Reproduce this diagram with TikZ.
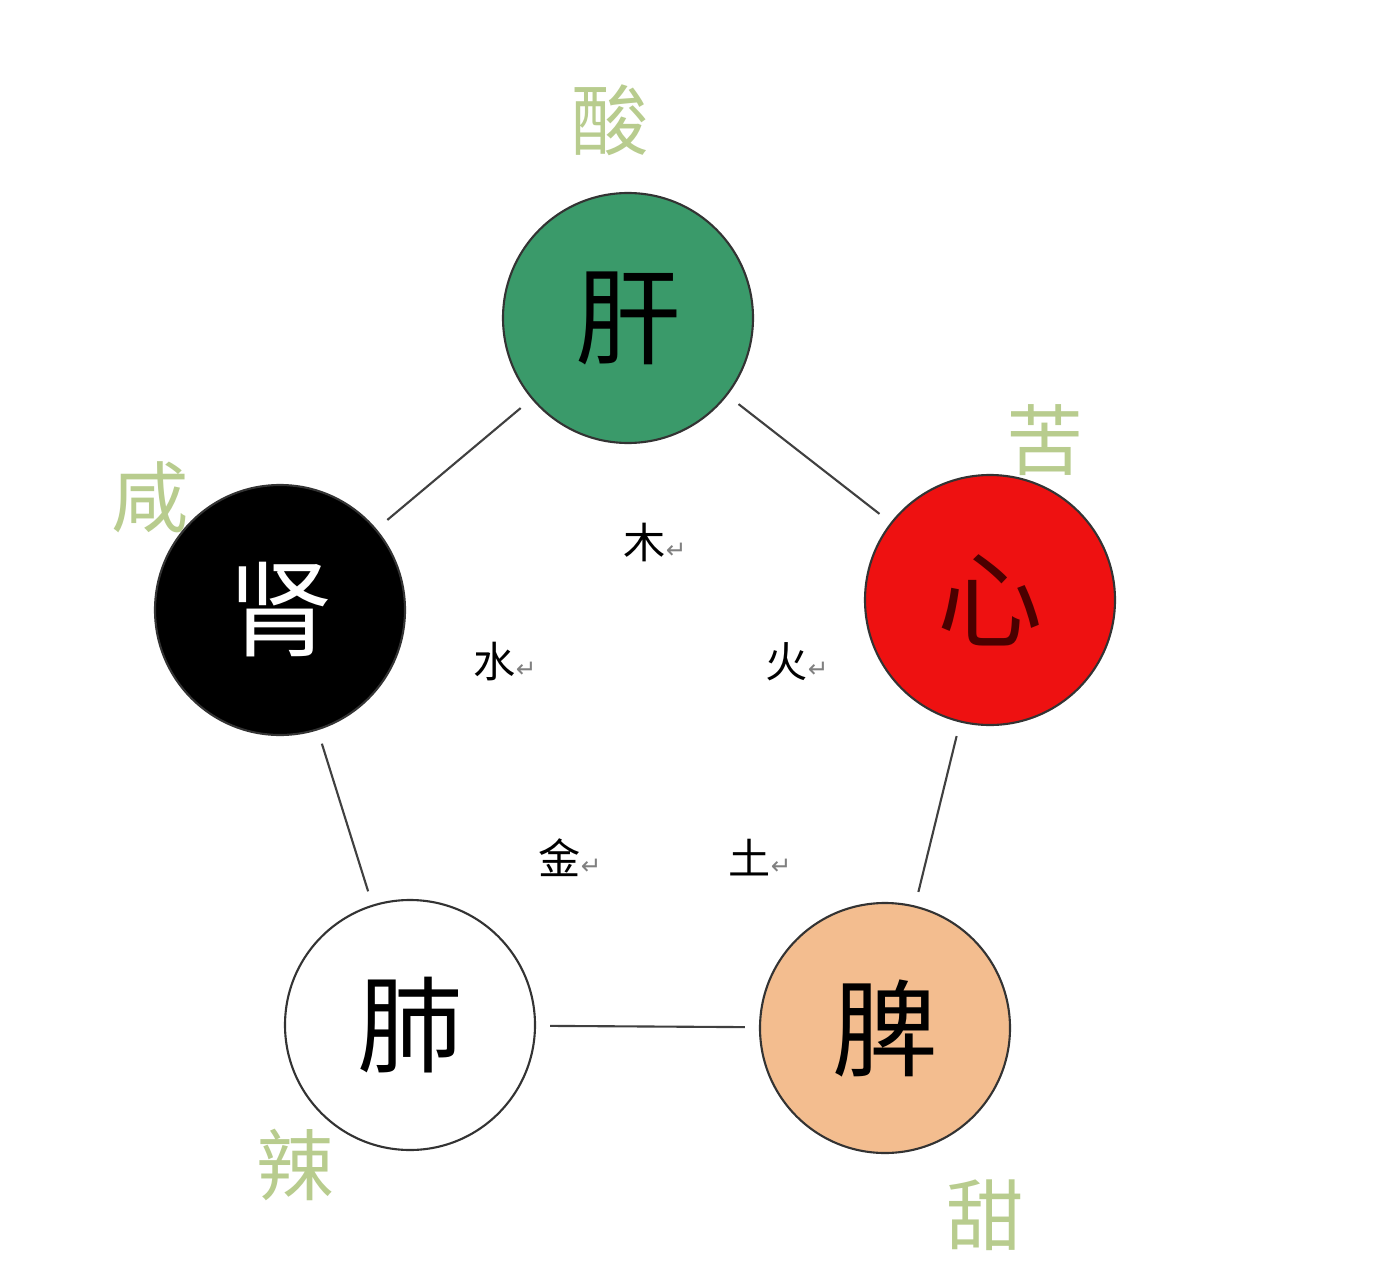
\documentclass[tikz,border=0pt]{standalone}
\usepackage{fontspec}
\newfontfamily\cjk{Noto Sans CJK SC}
\newfontfamily\djvfont{DejaVu Sans}
\definecolor{gan}{HTML}{3A9A6A}
\definecolor{xin}{HTML}{EE1111}
\definecolor{pi}{HTML}{F3BD8F}
\definecolor{taste}{HTML}{B8CC8E}
\begin{document}
\begin{tikzpicture}[x=0.02cm,y=-0.02cm]
\tikzset{organ/.style={circle,minimum size=250*0.02cm,inner sep=0pt,draw=black!80,line width=1.2pt,font=\cjk\fontsize{60}{60}\selectfont},
taste/.style={text=taste,font=\cjk\fontsize{44}{44}\selectfont},
elem/.style={font=\cjk\fontsize{24}{24}\selectfont},
link/.style={draw=black!75,line width=1.2pt,shorten <=8pt,shorten >=8pt}}
\newcommand\retmark{{\djvfont\color{gray}\fontsize{14}{14}\selectfont ↵}}
\useasboundingbox (0,0) rectangle (1385,1280);
\fill[white] (0,0) rectangle (1385,1280);
\node[organ,fill=gan] (gan) at (628,318) {肝};
\node[organ,fill=xin,text=black!70!red] (xin) at (990,600) {心};
\node[organ,fill=black,text=white] (shen) at (280,610) {肾};
\node[organ,fill=white] (fei) at (410,1025) {肺};
\node[organ,fill=pi] (pi) at (885,1028) {脾};
\draw[link] (gan) -- (shen);
\draw[link] (gan) -- (xin);
\draw[link] (shen) -- (fei);
\draw[link] (xin) -- (pi);
\draw[link] (fei) -- (pi);
\node[taste] (t1) at (610,120) {酸};
\node[taste] (t2) at (1045,440) {苦};
\node[taste] (t3) at (150,497) {咸};
\node[taste] (t4) at (295,1165) {辣};
\node[taste] (t5) at (985,1215) {甜};
\node[elem] (e1) at (655,542) {木\retmark};
\node[elem] (e2) at (505,662) {水\retmark};
\node[elem] (e3) at (797,662) {火\retmark};
\node[elem] (e4) at (570,858) {金\retmark};
\node[elem] (e5) at (760,858) {土\retmark};
\end{tikzpicture}
\end{document}
